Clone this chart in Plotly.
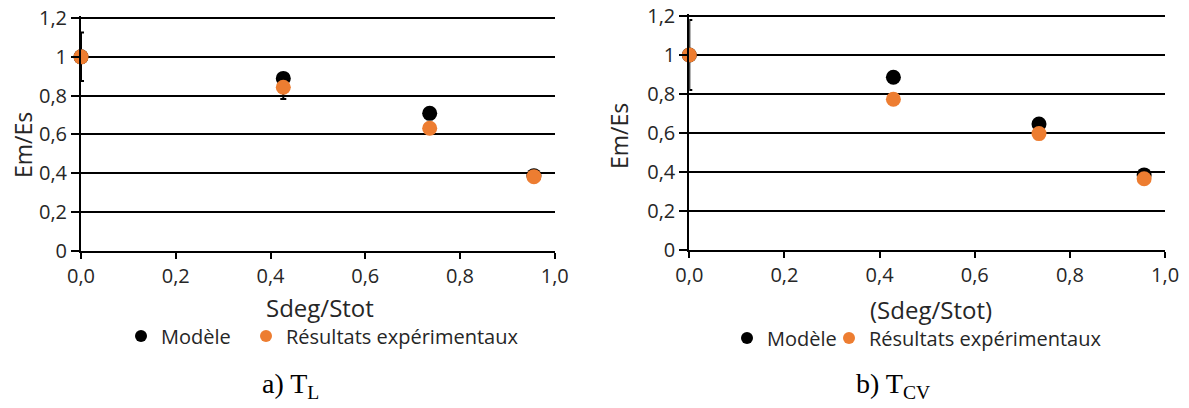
import plotly.graph_objects as go

# data
x_tl = [0.0, 0.427, 0.736, 0.956]
model_tl = [1.0, 0.889, 0.709, 0.388]
exp_tl = [1.0, 0.843, 0.632, 0.383]
err_tl = [0.125, 0.06, 0.0, 0.0]

x_tcv = [0.0, 0.429, 0.735, 0.956]
model_tcv = [1.0, 0.886, 0.646, 0.385]
exp_tcv = [1.0, 0.773, 0.597, 0.365]
err_tcv = [0.18, 0.0, 0.0, 0.0]

x_ticks = [0.0, 0.2, 0.4, 0.6, 0.8, 1.0]
x_ticklabels = ["0,0", "0,2", "0,4", "0,6", "0,8", "1,0"]
y_ticks = [0, 0.2, 0.4, 0.6, 0.8, 1.0, 1.2]
y_ticklabels = ["0", "0,2", "0,4", "0,6", "0,8", "1", "1,2"]

BLACK = "#000000"
ORANGE = "#ED7D31"
TXT = "#262626"
FONT = "Open Sans"

# the page body keeps its default 8px margin, so the figure is made 8px
# smaller and every position below is given in window pixels minus 8
OFF = 8
W, H = 1189 - OFF, 408 - OFF

# plotly drops a gridline lying within 1px of the axis end, so the y range
# goes a bit past 1.2 and the domain is stretched to keep 1.2 in place
Y_TOP = 1.21


def fx(px):
    return (px - OFF) / W


def fy(py):
    return 1 - (py - OFF) / H


def y_domain(py0, py12):
    top = py0 - (py0 - py12) * Y_TOP / 1.2
    return [fy(py0), fy(top)]


fig = go.Figure()

# one legend per entry so the entries can sit where the original has them
panels = [
    (x_tl, model_tl, exp_tl, err_tl, "x", "y", "legend", "legend2"),
    (x_tcv, model_tcv, exp_tcv, err_tcv, "x2", "y2", "legend3", "legend4"),
]
for xs, mod, exp, err, xa, ya, lg_m, lg_e in panels:
    fig.add_trace(go.Scatter(
        x=xs, y=mod, mode="markers", name="Modèle",
        marker=dict(color=BLACK, size=15), xaxis=xa, yaxis=ya,
        legend=lg_m, cliponaxis=False,
    ))
    fig.add_trace(go.Scatter(
        x=xs, y=exp, mode="markers", name="Résultats expérimentaux",
        marker=dict(color=ORANGE, size=15), xaxis=xa, yaxis=ya,
        legend=lg_e, cliponaxis=False,
        error_y=dict(type="data", array=err, visible=True,
                     color=BLACK, thickness=2, width=3),
    ))

tickfont = dict(family=FONT, size=20, color=TXT)


def xaxis_cfg(domain, anchor):
    return dict(
        domain=domain, anchor=anchor, range=[0, 1.0005], automargin=False,
        tickvals=x_ticks, ticktext=x_ticklabels, tickfont=tickfont,
        ticklabeloverflow="allow",
        showgrid=False, zeroline=False,
        showline=True, linecolor=BLACK, linewidth=2,
        ticks="outside", ticklen=6, tickwidth=2, tickcolor=BLACK,
        fixedrange=True,
    )


def xaxis_inner(over, anchor, domain):
    # second copy of the x axis only for the inward half of the crossing ticks
    return dict(
        overlaying=over, anchor=anchor, domain=domain, range=[0, 1.0005],
        automargin=False, tickvals=x_ticks, showticklabels=False,
        showgrid=False, zeroline=False, showline=False,
        ticks="inside", ticklen=6, tickwidth=2, tickcolor=BLACK,
    )


def yaxis_cfg(domain, anchor):
    return dict(
        domain=domain, anchor=anchor, range=[0, Y_TOP], automargin=False,
        tickvals=y_ticks, ticktext=y_ticklabels, tickfont=tickfont,
        ticklabeloverflow="allow",
        showgrid=True, gridcolor=BLACK, gridwidth=2, zeroline=False,
        showline=True, linecolor=BLACK, linewidth=2,
        ticks="outside", ticklen=8, tickwidth=2, tickcolor=BLACK,
        fixedrange=True,
    )


def legend_at(px, py):
    return dict(x=fx(px), y=fy(py), xanchor="left", yanchor="middle",
                font=dict(family=FONT, size=20, color=TXT),
                itemsizing="constant", bgcolor="rgba(0,0,0,0)",
                borderwidth=0)


def note(text, px, py, size, family=FONT, color=TXT, angle=0):
    return dict(text=text, x=fx(px), y=fy(py), xref="paper",
                yref="paper", showarrow=False, textangle=angle,
                xanchor="center", yanchor="middle",
                font=dict(family=family, size=size, color=color))


dom_x1 = [fx(81), fx(555)]
dom_x2 = [fx(689.3), fx(1165.3)]
dom_y1 = y_domain(251, 18)
dom_y2 = y_domain(250, 16)

fig.update_layout(
    width=W, height=H,
    margin=dict(l=0, r=0, t=0, b=0),
    paper_bgcolor="white", plot_bgcolor="white",
    showlegend=True,
    xaxis=xaxis_cfg(dom_x1, "y"),
    yaxis=yaxis_cfg(dom_y1, "x"),
    xaxis2=xaxis_cfg(dom_x2, "y2"),
    yaxis2=yaxis_cfg(dom_y2, "x2"),
    xaxis3=xaxis_inner("x", "y", dom_x1),
    xaxis4=xaxis_inner("x2", "y2", dom_x2),
    legend=legend_at(121, 336),
    legend2=legend_at(246, 336),
    legend3=legend_at(727, 338),
    legend4=legend_at(829, 338),
    annotations=[
        note("Em/Es", 23, 145, 23, angle=-90),
        note("Em/Es", 619, 136, 23, angle=-90),
        note("Sdeg/Stot", 320, 307, 24),
        note("(Sdeg/Stot)", 931, 309, 24),
        note("a) T<sub>L</sub>", 290, 385, 28, "Liberation Serif", BLACK),
        note("b) T<sub>CV</sub>", 893, 385, 28, "Liberation Serif", BLACK),
    ],
)

fig.write_html("out.html")
